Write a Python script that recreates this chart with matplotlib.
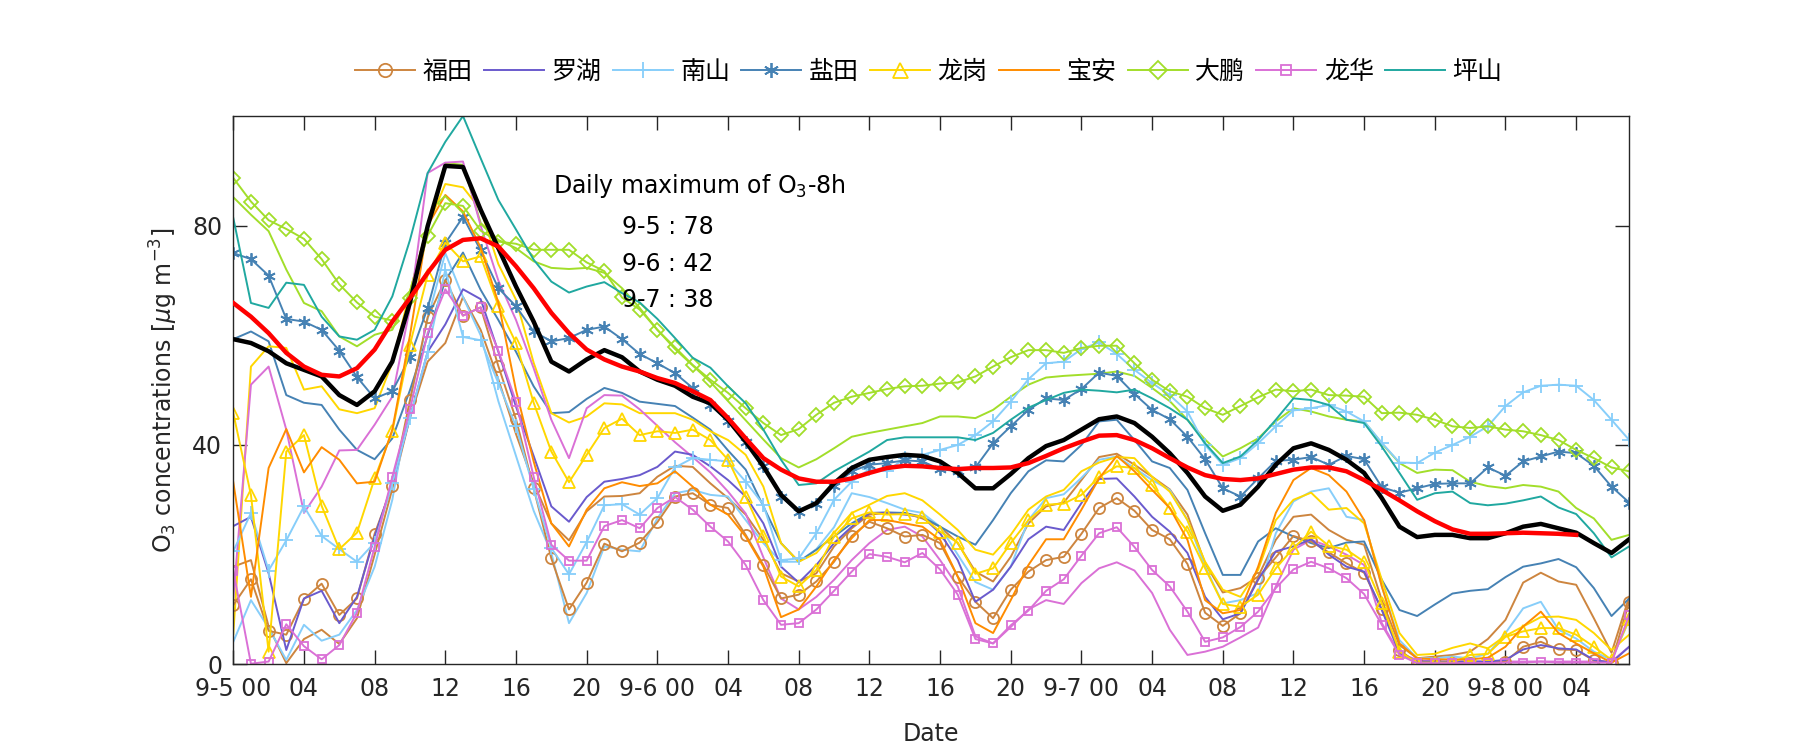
import numpy as np
import matplotlib
matplotlib.use("Agg")
import matplotlib.pyplot as plt

plt.rcParams['font.family'] = ['DejaVu Sans', 'Noto Sans CJK SC']

nan = np.nan
hours = np.arange(80)

# observed stations (with markers)
futian = [10.8, 15.5, 6.1, 5.4, 11.9, 14.7, 9.0, 12.0, 23.8, 32.5,
          48.2, 63.3, 70.1, 63.6, 65.1, 54.4, 44.7, 32.1, 19.3, 10.0,
          14.9, 22.0, 20.6, 22.2, 25.9, 30.6, 31.2, 29.1, 28.5, 23.6,
          18.1, 12.0, 12.7, 15.1, 18.7, 23.4, 26.0, 24.8, 23.3, 23.6,
          22.1, 16.0, 11.4, 8.4, 13.6, 16.9, 19.0, 19.6, 23.8, 28.5,
          30.3, 28.0, 24.5, 22.8, 18.3, 9.4, 7.0, 9.3, 15.7, 19.5,
          23.4, 22.4, 20.4, 18.4, 16.7, 10.0, 2.6, 0.2, 0.2, 0.2,
          0.2, 0.2, 0.5, 3.2, 4.1, 2.7, 2.6, 0.7, 0.3, 11.4]
futian2 = [17.8, 19.0, 6.9, 0.2, 4.6, 6.3, 3.7, 8.4, 20.0, 32.0,
           45.0, 55.2, 58.6, 67.0, 61.0, 52.0, 42.0, 33.0, 25.7, 22.6,
           27.9, 30.6, 30.7, 31.2, 34.2, 36.2, 36.0, 33.0, 30.3, 27.3,
           22.7, 16.6, 15.1, 16.6, 21.5, 24.8, 27.3, 27.6, 27.6, 26.6,
           25.1, 22.1, 16.9, 15.1, 19.6, 25.7, 28.8, 29.5, 33.6, 37.8,
           38.4, 36.4, 34.2, 31.9, 27.3, 18.4, 13.1, 13.9, 16.0, 22.7,
           26.9, 27.3, 24.5, 22.7, 21.8, 11.7, 3.5, 1.1, 1.4, 1.7,
           2.3, 4.6, 8.1, 14.9, 16.7, 15.1, 14.5, 8.4, 2.1, 12.3]
luohu = [25.2, 26.9, 16.6, 2.6, 12.0, 13.4, 7.5, 12.3, 23.3, 33.0,
         45.0, 57.0, 62.0, 68.4, 66.6, 57.0, 47.0, 38.0, 28.8, 26.0,
         30.5, 33.3, 33.8, 34.5, 36.0, 38.8, 38.2, 36.1, 33.6, 30.6,
         25.7, 17.8, 14.9, 18.1, 22.1, 25.1, 27.6, 27.6, 27.3, 26.9,
         23.9, 19.0, 11.4, 13.6, 17.8, 22.8, 25.1, 24.5, 29.4, 33.8,
         33.9, 30.6, 26.9, 24.2, 20.3, 12.3, 8.2, 9.3, 15.4, 20.6,
         21.5, 22.8, 20.0, 17.8, 16.9, 9.9, 2.0, 0.5, 0.5, 0.5,
         0.5, 0.5, 0.8, 2.7, 3.5, 2.9, 2.7, 0.8, 0.3, 3.2]
nanshan = [20.6, 27.6, 17.1, 22.6, 28.8, 23.4, 21.0, 18.7, 22.2, 33.0,
           45.0, 57.0, 72.0, 59.7, 59.1, 51.3, 43.4, 32.0, 21.2, 16.4,
           22.3, 29.0, 29.2, 27.3, 30.3, 35.9, 37.6, 37.3, 37.0, 33.3,
           29.1, 19.0, 19.3, 23.9, 30.0, 33.3, 35.6, 35.2, 37.6, 38.2,
           39.1, 40.0, 41.8, 44.3, 47.9, 52.0, 54.9, 55.2, 57.5, 58.7,
           56.6, 53.7, 51.3, 49.1, 46.1, 40.0, 36.4, 37.6, 40.3, 43.4,
           46.3, 46.7, 47.3, 46.1, 44.3, 40.4, 36.8, 36.7, 38.6, 40.0,
           41.5, 43.4, 47.1, 49.6, 50.8, 51.0, 50.8, 48.2, 44.6, 40.9]
nanshan2 = [4.1, 11.7, 6.6, 0.8, 7.2, 4.3, 5.4, 9.9, 17.8, 30.0,
            48.0, 63.0, 75.0, 67.0, 60.0, 48.0, 38.0, 28.0, 20.3, 7.5,
            13.0, 21.5, 20.9, 20.6, 26.6, 31.2, 31.8, 30.9, 30.6, 26.3,
            22.1, 18.7, 18.7, 21.0, 25.0, 31.2, 30.5, 29.4, 28.2, 27.6,
            25.1, 20.0, 15.0, 13.6, 17.8, 26.3, 30.3, 31.0, 34.0, 37.3,
            37.9, 35.8, 33.6, 31.8, 26.3, 17.8, 11.1, 11.7, 13.0, 23.9,
            29.7, 31.5, 32.1, 26.9, 26.3, 14.2, 4.4, 1.1, 1.1, 1.4,
            1.1, 1.9, 5.7, 10.2, 11.4, 6.3, 4.7, 2.3, 0.8, 8.0]
yantian = [75.0, 73.9, 70.9, 63.0, 62.5, 61.0, 57.2, 52.4, 48.5, 49.8,
           56.0, 65.0, 76.8, 81.6, 75.5, 68.6, 65.3, 60.7, 58.9, 59.5,
           61.0, 61.6, 59.3, 56.6, 54.9, 53.1, 50.4, 47.3, 44.3, 40.6,
           36.2, 30.6, 27.7, 29.3, 32.5, 35.2, 36.4, 36.7, 37.2, 37.0,
           35.6, 35.2, 35.9, 40.3, 43.4, 46.4, 48.5, 48.2, 50.2, 53.2,
           52.6, 49.3, 46.4, 44.7, 41.5, 37.4, 32.1, 30.6, 33.9, 37.1,
           37.3, 37.8, 36.4, 38.0, 37.4, 32.3, 31.3, 32.1, 32.9, 33.0,
           33.0, 35.9, 34.4, 37.0, 37.9, 38.8, 38.5, 36.2, 32.4, 29.5]
yantian2 = [59.3, 60.7, 58.9, 49.1, 47.7, 47.3, 42.8, 39.1, 37.4, 41.2,
            50.0, 60.0, 70.0, 75.1, 68.3, 62.8, 57.0, 50.7, 45.8, 46.0,
            48.4, 50.4, 49.5, 47.9, 47.5, 47.1, 45.0, 42.8, 39.0, 35.5,
            28.8, 22.1, 18.7, 20.9, 23.3, 25.7, 27.6, 27.7, 27.6, 26.9,
            25.1, 23.3, 21.8, 26.3, 31.2, 35.2, 37.2, 37.0, 40.0, 44.3,
            44.6, 40.9, 37.0, 35.8, 31.8, 23.9, 16.3, 16.3, 22.4, 24.8,
            23.3, 22.1, 21.2, 22.2, 22.4, 15.4, 9.9, 8.8, 10.9, 12.9,
            13.4, 13.7, 15.9, 17.8, 18.4, 19.2, 17.7, 13.9, 8.8, 12.0]
longgang = [45.8, 30.9, 2.3, 38.8, 41.8, 28.9, 21.0, 24.0, 33.9, 42.5,
            58.3, 71.0, 76.9, 73.5, 74.4, 65.4, 58.6, 47.7, 38.8, 33.2,
            38.2, 43.1, 44.8, 41.8, 42.5, 42.2, 42.8, 40.9, 37.3, 30.6,
            23.4, 16.0, 14.2, 17.2, 23.3, 26.6, 27.7, 27.3, 27.4, 26.9,
            24.2, 22.2, 16.5, 17.5, 22.1, 26.3, 29.1, 29.3, 30.9, 34.2,
            36.1, 35.8, 32.7, 28.5, 24.2, 17.5, 11.0, 10.5, 12.7, 17.5,
            21.2, 24.2, 21.6, 20.9, 18.7, 11.1, 2.3, 0.3, 0.3, 0.3,
            1.7, 1.9, 5.0, 6.0, 6.6, 6.6, 5.4, 3.2, 0.8, 8.2]
longgang2 = [5.5, 54.3, 58.0, 57.7, 50.1, 50.7, 46.5, 45.8, 46.7, 55.0,
             68.0, 80.0, 87.6, 87.0, 82.9, 73.0, 66.5, 55.0, 45.8, 44.1,
             45.2, 47.6, 47.4, 45.8, 45.8, 45.8, 44.6, 42.5, 40.9, 38.2,
             32.4, 22.1, 18.7, 20.3, 24.0, 27.6, 29.1, 30.7, 31.2, 29.9,
             27.3, 24.5, 20.9, 20.0, 23.6, 28.2, 30.6, 31.8, 35.2, 36.8,
             37.8, 37.6, 34.2, 31.5, 26.3, 18.7, 13.6, 12.3, 17.2, 26.3,
             30.0, 31.3, 28.2, 28.5, 25.7, 15.4, 5.7, 1.7, 1.9, 3.0,
             3.8, 2.9, 5.2, 6.9, 8.6, 8.7, 8.1, 5.7, 2.6, 5.4]
baoan = [33.2, 12.3, 35.8, 42.9, 35.0, 39.6, 37.3, 33.0, 33.3, 42.8,
         60.0, 80.0, 85.6, 82.6, 76.0, 66.0, 50.0, 37.0, 25.7, 21.5,
         28.2, 32.1, 33.2, 32.5, 33.0, 35.2, 32.4, 29.1, 27.3, 23.3,
         17.8, 8.6, 10.0, 14.2, 19.0, 23.0, 26.3, 26.3, 25.7, 25.1,
         22.7, 16.0, 7.5, 5.7, 11.7, 18.1, 22.8, 22.8, 28.2, 33.9,
         38.0, 35.2, 31.8, 28.5, 22.7, 11.7, 9.3, 9.9, 17.8, 27.6,
         33.6, 35.8, 34.5, 31.5, 26.3, 14.2, 3.8, 1.1, 0.9, 0.9,
         0.9, 1.2, 3.2, 6.9, 9.6, 5.7, 3.8, 2.0, 0.3, 2.0]
dapeng = [88.7, 84.4, 81.0, 79.4, 77.6, 73.9, 69.3, 66.0, 63.4, 62.7,
          66.8, 78.2, 84.1, 83.6, 79.1, 77.1, 76.7, 75.6, 75.6, 75.6,
          73.3, 71.7, 66.9, 64.7, 61.0, 57.8, 54.6, 51.9, 49.5, 46.7,
          44.0, 41.8, 42.9, 45.5, 47.7, 48.8, 49.5, 50.2, 50.7, 50.8,
          51.2, 51.4, 52.5, 54.3, 56.0, 57.3, 57.3, 56.8, 57.7, 58.1,
          58.1, 54.9, 51.9, 49.8, 48.8, 46.7, 45.5, 47.1, 48.7, 50.1,
          49.8, 50.1, 49.1, 49.0, 48.8, 45.8, 45.9, 45.5, 44.6, 43.4,
          43.1, 43.4, 42.8, 42.5, 41.8, 40.9, 39.1, 37.6, 35.9, 35.2]
dapeng2 = [85.2, 82.0, 79.0, 72.0, 65.9, 64.4, 59.8, 58.0, 60.1, 61.0,
           68.0, 80.0, 91.4, 91.1, 80.5, 77.4, 75.9, 73.5, 72.3, 72.1,
           72.3, 71.4, 68.6, 65.0, 61.0, 57.5, 54.5, 51.5, 48.0, 44.5,
           41.0, 37.6, 35.9, 37.4, 39.4, 41.5, 42.2, 42.8, 43.4, 44.0,
           45.2, 45.2, 44.9, 46.4, 48.8, 51.0, 52.3, 52.6, 52.8, 53.0,
           53.4, 52.6, 50.4, 48.0, 44.6, 41.0, 37.9, 39.4, 41.2, 44.3,
           46.7, 46.1, 45.2, 44.6, 44.3, 40.3, 36.7, 34.9, 35.5, 35.4,
           33.3, 32.5, 32.1, 32.7, 32.4, 31.5, 28.5, 26.6, 22.7, 23.6]
longhua = [17.1, 0.1, 0.5, 7.3, 3.3, 0.9, 3.5, 9.4, 21.4, 34.2,
           46.5, 60.4, 68.4, 63.6, 65.1, 57.2, 47.9, 34.2, 21.8, 18.9,
           18.9, 25.2, 26.3, 24.8, 28.5, 30.5, 28.2, 25.1, 22.4, 18.1,
           11.7, 7.2, 7.5, 10.0, 13.4, 16.9, 20.1, 19.6, 18.6, 20.3,
           17.3, 12.7, 4.6, 3.8, 7.1, 9.8, 13.4, 15.5, 19.8, 23.9,
           25.0, 21.4, 17.2, 14.2, 9.6, 4.1, 4.9, 6.8, 9.6, 13.9,
           17.3, 18.7, 17.5, 15.7, 12.8, 7.2, 1.7, 0.2, 0.2, 0.2,
           0.2, 0.2, 0.3, 0.3, 0.5, 0.3, 0.3, 0.3, 0.3, 9.0]
longhua2 = [12.0, 51.0, 54.3, 42.8, 27.6, 32.4, 39.0, 39.1, 43.7, 48.8,
            65.0, 89.6, 91.5, 91.7, 80.0, 70.0, 62.8, 54.0, 44.6, 37.6,
            46.7, 49.1, 49.0, 46.5, 43.5, 40.5, 37.8, 35.0, 31.5, 27.5,
            19.5, 12.0, 10.0, 12.3, 15.4, 19.0, 22.1, 24.5, 25.1, 23.3,
            19.0, 14.2, 5.1, 3.8, 6.8, 10.0, 11.7, 11.0, 14.8, 17.5,
            18.6, 17.1, 13.0, 6.3, 1.7, 2.3, 3.2, 4.9, 6.7, 14.2,
            20.9, 22.7, 21.5, 20.0, 18.1, 7.5, 2.0, 0.8, 0.5, 0.5,
            0.5, 0.5, 0.5, 0.5, 0.5, 0.5, 0.5, 0.5, 0.5, 3.2]
pingshan = [81.4, 65.9, 65.0, 69.6, 69.2, 63.4, 59.8, 59.2, 61.0, 67.1,
            77.4, 89.6, 95.3, 100.0, 92.3, 84.7, 79.3, 73.8, 69.8, 67.8,
            68.9, 69.7, 67.7, 66.0, 63.0, 59.5, 55.9, 54.1, 50.7, 47.6,
            42.8, 37.3, 32.7, 33.0, 35.2, 37.0, 38.8, 40.9, 41.4, 41.4,
            41.4, 41.4, 40.9, 42.2, 44.6, 46.8, 48.2, 49.5, 50.1, 49.9,
            49.6, 50.1, 48.5, 46.7, 44.6, 40.3, 36.7, 37.9, 40.9, 44.6,
            48.5, 48.2, 47.3, 44.6, 44.0, 39.7, 34.9, 30.0, 31.2, 31.5,
            29.4, 29.0, 29.3, 29.9, 30.6, 28.6, 27.4, 23.9, 19.5, 21.5]
# city average and its smoothed curve
mean_all = [59.3, 58.6, 57.1, 54.9, 53.7, 52.5, 49.1, 47.3, 49.8, 55.2,
            66.0, 79.9, 90.9, 90.7, 82.9, 75.9, 68.9, 62.5, 55.2, 53.4,
            55.6, 57.3, 56.0, 53.4, 51.9, 50.8, 48.8, 47.6, 44.6, 40.6,
            36.1, 30.9, 27.9, 29.4, 33.0, 35.8, 37.3, 37.8, 38.2, 38.0,
            37.0, 34.9, 32.1, 32.1, 34.7, 37.6, 39.8, 40.9, 42.8, 44.7,
            45.2, 44.0, 41.5, 38.5, 34.9, 30.6, 28.0, 29.1, 32.4, 36.4,
            39.4, 40.3, 39.1, 37.3, 34.9, 30.3, 25.1, 23.2, 23.6, 23.6,
            23.0, 23.0, 23.9, 25.1, 25.6, 24.8, 24.0, 22.1, 20.3, 22.8]
o3_8h = [65.9, 63.4, 60.4, 56.8, 54.3, 52.8, 52.5, 54.0, 57.4, 62.5,
         66.8, 71.4, 75.6, 77.4, 77.7, 76.2, 72.6, 68.6, 64.1, 60.4,
         57.4, 55.6, 54.3, 53.4, 52.2, 51.3, 49.8, 48.2, 44.9, 41.2,
         37.6, 35.5, 33.9, 33.3, 33.3, 33.9, 34.9, 35.8, 36.2, 36.1,
         35.8, 35.6, 35.8, 35.8, 35.9, 36.7, 38.0, 39.4, 40.6, 41.7,
         41.8, 40.9, 39.4, 37.6, 35.9, 34.5, 33.8, 33.6, 33.9, 34.7,
         35.5, 35.9, 35.9, 35.2, 33.6, 31.8, 29.9, 27.9, 26.1, 24.6,
         23.8, 23.8, 23.9, 24.0, 23.9, 23.8, 23.6, nan, nan, nan]

daily_max = ['9-5 : 78', '9-6 : 42', '9-7 : 38']

c_ft, c_lh, c_ns, c_yt = '#CD853F', '#6A5ACD', '#87CEFA', '#4682B4'
c_lg, c_ba, c_dp, c_lhua, c_ps = '#FFD700', '#FF8C00', '#A2DE2A', '#DA70D6', '#20A8A0'

fig = plt.figure(figsize=(18, 7.5), dpi=100)
ax = fig.add_axes([0.1296, 0.1143, 0.7755, 0.7310])

lw = 1.4
# second stations (no markers)
for y, c in [(futian2, c_ft), (nanshan2, c_ns), (yantian2, c_yt), (longgang2, c_lg),
             (dapeng2, c_dp), (longhua2, c_lhua)]:
    ax.plot(hours, y, color=c, lw=lw)

h = []
h += ax.plot(hours, futian, color=c_ft, lw=lw, marker='o', ms=8, mfc='none', mew=1.3, label='福田')
h += ax.plot(hours, luohu, color=c_lh, lw=lw, label='罗湖')
h += ax.plot(hours, nanshan, color=c_ns, lw=lw, marker='+', ms=10, mew=1.3, label='南山')
h += ax.plot(hours, yantian, color=c_yt, lw=lw, marker=(6, 2, 0), ms=9, mew=1.3, label='盐田')
h += ax.plot(hours, longgang, color=c_lg, lw=lw, marker='^', ms=9, mfc='none', mew=1.3, label='龙岗')
h += ax.plot(hours, baoan, color=c_ba, lw=lw, label='宝安')
h += ax.plot(hours, dapeng, color=c_dp, lw=lw, marker='D', ms=7.5, mfc='none', mew=1.3, label='大鹏')
h += ax.plot(hours, longhua, color=c_lhua, lw=lw, marker='s', ms=6, mfc='none', mew=1.3, label='龙华')
h += ax.plot(hours, pingshan, color=c_ps, lw=lw, label='坪山')

ax.plot(hours, mean_all, color='black', lw=3.2, zorder=5)
ax.plot(hours, o3_8h, color='red', lw=3.2, zorder=6)

ax.set_xlim(0, 79)
ax.set_ylim(0, 100)
ticks = np.arange(0, 80, 4)
labels = [f'9-{5 + t // 24} 00' if t % 24 == 0 else f'{t % 24:02d}' for t in ticks]
ax.set_xticks(ticks)
ax.set_xticklabels(labels)
ax.set_yticks([0, 40, 80])
ax.tick_params(direction='in', length=10, width=1.0, top=True, right=True,
               labelsize=17, colors='#262626')
ax.tick_params(axis='x', pad=9)
ax.tick_params(axis='y', pad=8)
for s in ax.spines.values():
    s.set_color('#262626')
    s.set_linewidth(1.0)

ax.set_xlabel('Date', fontsize=17, color='#262626', labelpad=15)
ax.set_ylabel('O$_3$ concentrations [$\\mu$g m$^{-3}$]', fontsize=17, color='#262626', labelpad=9)

ax.text(18.1, 87.2, 'Daily maximum of O$_3$-8h', fontsize=17, va='center', ha='left')
for i, s in enumerate(daily_max):
    ax.text(22.0, 79.7 - 6.65 * i, s, fontsize=17, va='center', ha='left')

fig.legend(handles=h, loc='center', bbox_to_anchor=(0.516, 0.904), ncol=9, frameon=False,
           fontsize=18, handlelength=2.4, handletextpad=0.3, columnspacing=0.45,
           markerscale=1.2)

fig.savefig('out.png', dpi=100)
